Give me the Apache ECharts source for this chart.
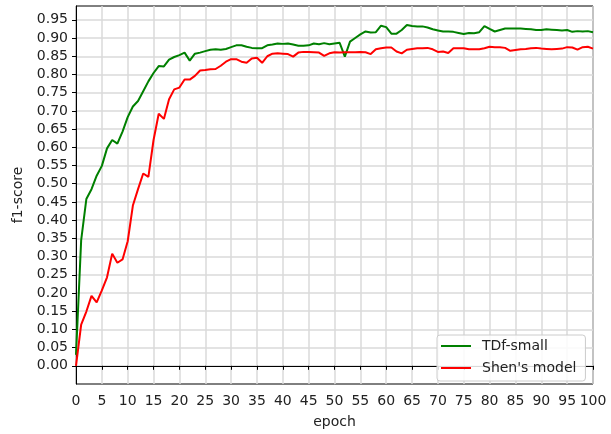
<!DOCTYPE html>
<html>
<head>
<meta charset="utf-8">
<script src="https://cdn.jsdelivr.net/npm/echarts@6/dist/echarts.min.js"></script>
<style>
html,body{margin:0;padding:0;background:#fff;}
#chart{width:611px;height:434px;}
</style>
</head>
<body>
<div id="chart"></div>
<script>
const seriesNames = ["TDf-small", "Shen's model"];
const tdfSmall = [
0.03,0.345,0.458,0.485,0.522,0.549,0.597,0.620,0.610,0.643,
0.683,0.712,0.727,0.754,0.781,0.804,0.823,0.822,0.841,0.848,
0.853,0.860,0.838,0.857,0.860,0.864,0.868,0.869,0.868,0.870,
0.875,0.880,0.880,0.876,0.873,0.872,0.872,0.880,0.882,0.885,
0.884,0.885,0.882,0.879,0.879,0.880,0.885,0.883,0.886,0.883,
0.885,0.887,0.849,0.890,0.900,0.910,0.918,0.915,0.916,0.934,
0.930,0.912,0.912,0.922,0.936,0.933,0.932,0.932,0.929,0.924,
0.921,0.918,0.918,0.917,0.914,0.911,0.914,0.913,0.916,0.933,
0.925,0.918,0.922,0.926,0.926,0.926,0.926,0.925,0.924,0.922,
0.922,0.924,0.923,0.922,0.921,0.922,0.917,0.919,0.918,0.919,
0.916];
const shenModel = [
0.000,0.113,0.149,0.192,0.174,0.207,0.243,0.308,0.283,0.292,
0.342,0.440,0.485,0.528,0.519,0.620,0.692,0.678,0.732,0.759,
0.764,0.786,0.786,0.796,0.811,0.812,0.814,0.815,0.824,0.835,
0.842,0.842,0.835,0.832,0.844,0.846,0.832,0.850,0.857,0.858,
0.857,0.856,0.849,0.860,0.862,0.862,0.861,0.860,0.851,0.858,
0.861,0.860,0.861,0.861,0.861,0.862,0.861,0.856,0.869,0.872,
0.874,0.874,0.863,0.858,0.868,0.870,0.872,0.872,0.873,0.869,
0.862,0.863,0.859,0.872,0.872,0.872,0.869,0.869,0.869,0.872,
0.876,0.875,0.875,0.873,0.865,0.867,0.869,0.870,0.872,0.873,
0.871,0.870,0.869,0.870,0.871,0.875,0.874,0.868,0.875,0.876,
0.871];
const yTicks = [0,0.05,0.1,0.15,0.2,0.25,0.3,0.35,0.4,0.45,0.5,0.55,0.6,0.65,0.7,0.75,0.8,0.85,0.9,0.95];
const xTicks = [0,5,10,15,20,25,30,35,40,45,50,55,60,65,70,75,80,85,90,95,100];

const toPairs = arr => arr.map((v, i) => [i, v]);
const FONT = 'DejaVu Sans';
const TXT = '#222';

const chart = echarts.init(document.getElementById('chart'), null, {renderer: 'canvas'});
chart.setOption({
  animation: false,
  backgroundColor: '#fff',
  grid: {left: 76, right: 18, top: 6, bottom: 44, show: true, borderColor: '#000', borderWidth: 1, backgroundColor: 'transparent'},
  xAxis: {
    type: 'value', min: 0, max: 100, interval: 5,
    name: 'epoch', nameLocation: 'middle', nameGap: 31,
    nameTextStyle: {fontFamily: FONT, fontSize: 14, color: TXT},
    axisLine: {show: true, lineStyle: {color: '#000', width: 1}},
    axisTick: {show: true, length: 4, lineStyle: {color: '#000'}, customValues: xTicks},
    axisLabel: {fontFamily: FONT, fontSize: 14, color: TXT, margin: 10, customValues: xTicks,
      formatter: v => String(Math.round(v))},
    splitLine: {show: true, lineStyle: {color: '#dadada', width: 1.5}}
  },
  yAxis: {
    type: 'value', min: -0.05, max: 0.988, interval: 0.05,
    name: 'f1-score', nameLocation: 'middle', nameGap: 51,
    nameTextStyle: {fontFamily: FONT, fontSize: 14, color: TXT},
    axisLine: {show: true, lineStyle: {color: '#000', width: 1}},
    axisTick: {show: true, length: 4, lineStyle: {color: '#000'}, customValues: yTicks},
    axisLabel: {fontFamily: FONT, fontSize: 14, color: TXT, margin: 8, customValues: yTicks,
      formatter: v => (v < -0.001 || v > 0.96) ? '' : v.toFixed(2)},
    splitLine: {show: true, lineStyle: {color: '#dadada', width: 1.5}}
  },
  legend: {
    show: true, orient: 'vertical', left: 437, top: 335,
    data: seriesNames.map(n => ({name: n, icon: 'rect'})),
    itemWidth: 30, itemHeight: 2, itemGap: 6,
    padding: [3, 9, 5, 4],
    backgroundColor: 'rgba(255,255,255,0.85)', borderColor: '#cccccc', borderWidth: 1, borderRadius: 3,
    textStyle: {fontFamily: FONT, fontSize: 14, color: TXT, lineHeight: 16, padding: [0, 0, 0, 6]}
  },
  series: [
    {name: seriesNames[0], type: 'line', data: toPairs(tdfSmall), showSymbol: false, symbol: 'none',
      color: '#008000', lineStyle: {color: '#008000', width: 2}, z: 2},
    {name: seriesNames[1], type: 'line', data: toPairs(shenModel), showSymbol: false, symbol: 'none',
      color: '#ff0000', lineStyle: {color: '#ff0000', width: 2}, z: 3}
  ]
});
</script>
</body>
</html>
